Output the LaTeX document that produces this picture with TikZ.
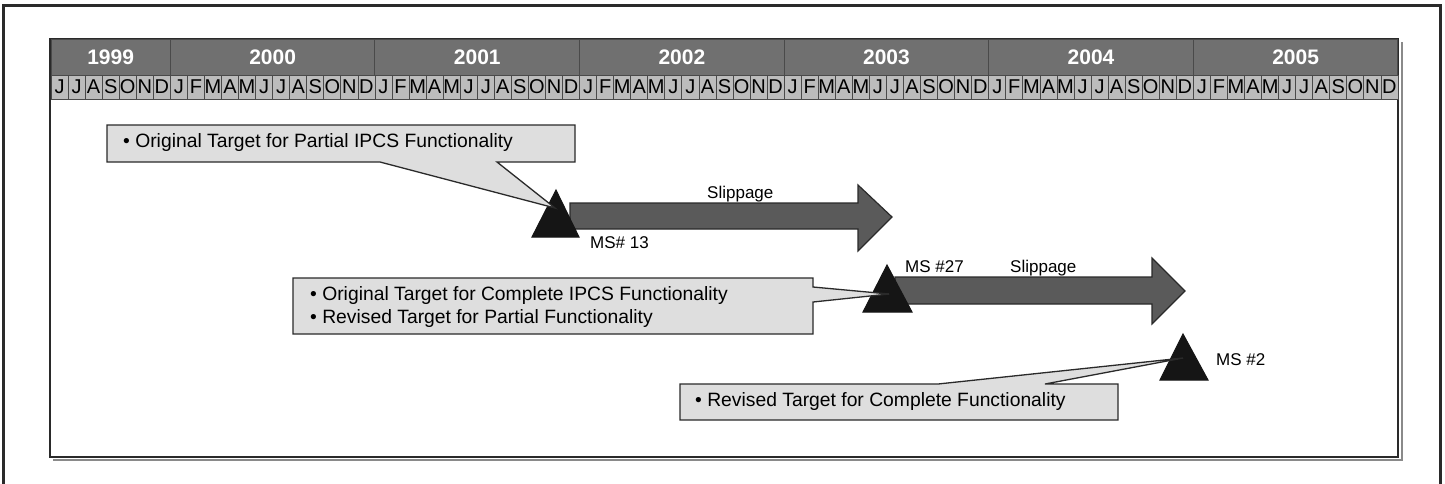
\documentclass[tikz,border=0pt]{standalone}
\usepackage{fontspec}
\setmainfont{Liberation Sans}
\definecolor{yearfill}{HTML}{707070}
\definecolor{monthfill}{HTML}{BCBCBC}
\definecolor{cellline}{HTML}{4A4A4A}
\definecolor{callfill}{HTML}{DEDEDE}
\definecolor{arrowfill}{HTML}{5A5A5A}
\definecolor{trifill}{HTML}{151515}
\definecolor{framec}{HTML}{2A2A2A}
\definecolor{shadowc}{HTML}{8A8A8A}
\begin{document}
\begin{tikzpicture}[x=1pt,y=-1pt,
  yearcell/.style={draw=cellline, fill=yearfill, line width=1pt, minimum height=36pt, inner sep=0pt,
    text=white, font=\fontsize{21}{24}\selectfont\bfseries},
  monthcell/.style={draw=cellline, fill=monthfill, line width=0.8pt, minimum height=24pt, minimum width=17.05pt, inner sep=0pt,
    font=\fontsize{20}{24}\selectfont},
  callout/.style={draw=framec, fill=callfill, line width=1.3pt, line join=miter},
  calltext/.style={anchor=base west, inner sep=0pt, font=\fontsize{19.3}{23}\selectfont},
  lbl/.style={anchor=base west, inner sep=0pt, font=\fontsize{17}{20}\selectfont},
  slip/.style={draw=framec, fill=arrowfill, line width=1.2pt, line join=miter},
  milestone/.style={draw=trifill, fill=trifill, line width=1pt, line join=miter}]
\useasboundingbox (0,0) rectangle (1445,483);
% outer frame
\draw[framec, line width=3pt] (3,490) -- (3,5) -- (1440,5) -- (1440,490);
% inner frame with shadow
\draw[shadowc, line width=2pt] (53,460) -- (1402,460) -- (1402,42);
\draw[framec, line width=2pt, fill=white] (50,39) rectangle (1398,457);
% years
\node[yearcell, minimum width=119.35pt] (y1999) at (110.68,57) {1999};
\foreach \yr [count=\k from 0] in {2000,2001,2002,2003,2004,2005}
  \node[yearcell, minimum width=204.6pt] (y\yr) at ({170.35+204.6*\k+102.3},57) {\yr};
% months
\foreach \l [count=\i from 0] in {J,J,A,S,O,N,D,
  J,F,M,A,M,J,J,A,S,O,N,D, J,F,M,A,M,J,J,A,S,O,N,D, J,F,M,A,M,J,J,A,S,O,N,D,
  J,F,M,A,M,J,J,A,S,O,N,D, J,F,M,A,M,J,J,A,S,O,N,D, J,F,M,A,M,J,J,A,S,O,N,D}
  \node[monthcell] (m\i) at ({51+(\i+0.5)*17.05},87) {\l};
% slippage arrows
\coordinate (a1s) at (570,216);
\coordinate (a1t) at (892,217);
\draw[slip] (570,203) -- (858,203) -- (858,185) -- (a1t) -- (858,251) -- (858,229) -- (570,229) -- cycle;
\coordinate (a2s) at (895,291);
\coordinate (a2t) at (1185,291);
\draw[slip] (895,277) -- (1152,277) -- (1152,258) -- (a2t) -- (1152,324) -- (1152,304) -- (895,304) -- cycle;
% milestones
\draw[milestone] (556,190) -- (579,237) -- (532,237) -- cycle;
\draw[milestone] (887,265) -- (912,312) -- (863,312) -- cycle;
\draw[milestone] (1183,334) -- (1208,380) -- (1160,380) -- cycle;
% labels
\node[lbl] (slip1) at (707,198) {Slippage};
\node[lbl] (ms13) at (590,248) {MS\# 13};
\node[lbl] (ms27) at (905,272) {MS \#27};
\node[lbl] (slip2) at (1010,272) {Slippage};
\node[lbl] (ms2) at (1216,365) {MS \#2};
% callouts
\coordinate (tip1) at (555,208);
\coordinate (tip2) at (889,294);
\coordinate (tip3) at (1183,358);
\draw[callout] (107,125) -- (575,125) -- (575,162) -- (497,162) -- (tip1) -- (380,162) -- (107,162) -- cycle;
\draw[callout] (293,278) -- (813,278) -- (813,287) -- (tip2) -- (813,302) -- (813,334) -- (293,334) -- cycle;
\draw[callout] (680,384) -- (938,384) -- (tip3) -- (1045,384) -- (1118,384) -- (1118,420) -- (680,420) -- cycle;
\node[calltext] (c1) at (123,147) {• Original Target for Partial IPCS Functionality};
\node[calltext] (c2a) at (310,300) {• Original Target for Complete IPCS Functionality};
\node[calltext] (c2b) at (310,323) {• Revised Target for Partial Functionality};
\node[calltext] (c3) at (695,406) {• Revised Target for Complete Functionality};
\end{tikzpicture}
\end{document}
